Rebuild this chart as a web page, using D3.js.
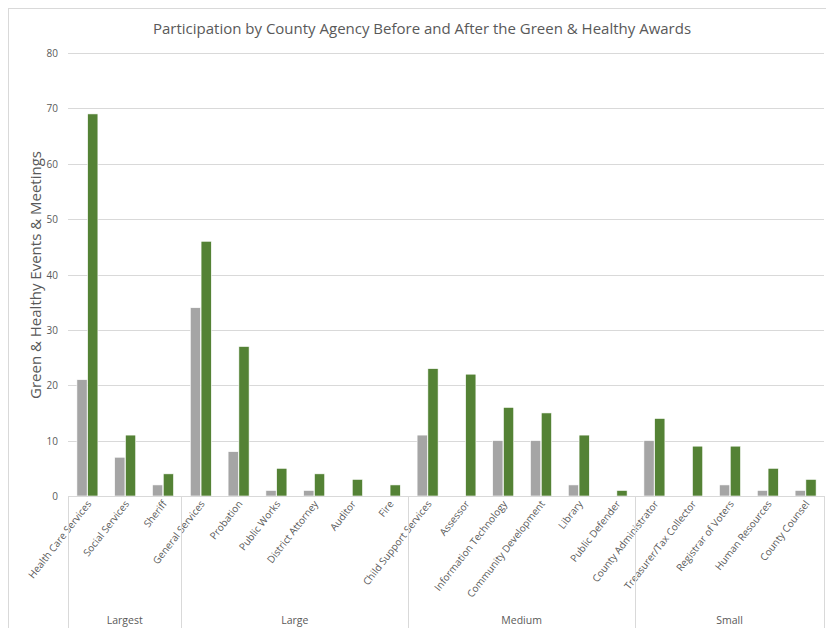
<!DOCTYPE html>
<html>
<head>
<meta charset="utf-8">
<script src="https://cdn.jsdelivr.net/npm/d3@7"></script>
<style>
  body { margin: 0; background: #fff; }
  text { font-family: "Open Sans", sans-serif; fill: #595959; }
</style>
</head>
<body>
<svg id="chart" width="826" height="628"></svg>
<script>
const agencies = ["Health Care Services", "Social Services", "Sheriff", "General Services", "Probation",
  "Public Works", "District Attorney", "Auditor", "Fire", "Child Support Services", "Assessor",
  "Information Technology", "Community Development", "Library", "Public Defender",
  "County Administrator", "Treasurer/Tax Collector", "Registrar of Voters", "Human Resources", "County Counsel"];
const before = [21, 7, 2, 34, 8, 1, 1, 0, 0, 11, 0, 10, 10, 2, 0, 10, 0, 2, 1, 1];
const after = [69, 11, 4, 46, 27, 5, 4, 3, 2, 23, 22, 16, 15, 11, 1, 14, 9, 9, 5, 3];
const groups = ["Largest", "Large", "Medium", "Small"];
const groupSizes = [3, 6, 6, 5];
const yTicks = [0, 10, 20, 30, 40, 50, 60, 70, 80];

const svg = d3.select('#chart');

// outer chart border
svg.append('rect')
  .attr('x', 8.5).attr('y', 8.5)
  .attr('width', 830).attr('height', 640)
  .attr('fill', 'none').attr('stroke', '#d9d9d9');

const plotLeft = 68, plotRight = 824, plotTop = 53, plotBottom = 496;

const x0 = d3.scaleBand().domain(agencies).range([plotLeft, plotRight]);
const bw = x0.bandwidth();
const x1 = d3.scaleBand().domain(['before', 'after']).range([bw / 2 - 10, bw / 2 + 11]).paddingInner(0.05);
const y = d3.scaleLinear().domain([0, 80]).range([plotBottom, plotTop]);

// gridlines
svg.append('g')
  .selectAll('line')
  .data(yTicks.slice(1)).enter().append('line')
  .attr('x1', plotLeft).attr('x2', plotRight)
  .attr('y1', d => Math.round(y(d)) + 0.5).attr('y2', d => Math.round(y(d)) + 0.5)
  .attr('stroke', '#d9d9d9');

// y tick labels
svg.append('g')
  .selectAll('text')
  .data(yTicks).enter().append('text')
  .attr('x', 58).attr('y', d => y(d))
  .attr('text-anchor', 'end')
  .attr('dominant-baseline', 'central')
  .attr('font-size', '10px')
  .text(d => d);

// bars
const series = [
  {key: 'before', values: before, color: '#a5a5a5'},
  {key: 'after', values: after, color: '#548235'}
];
series.forEach(s => {
  svg.append('g')
    .selectAll('rect')
    .data(agencies).enter().append('rect')
    .attr('x', d => x0(d) + x1(s.key))
    .attr('width', x1.bandwidth())
    .attr('y', (d, i) => y(s.values[i]))
    .attr('height', (d, i) => plotBottom - y(s.values[i]))
    .attr('fill', s.color)
    .attr('stroke', '#ffffff')
    .attr('stroke-width', 0.6);
});

// x axis line
svg.append('line')
  .attr('x1', plotLeft).attr('x2', plotRight)
  .attr('y1', plotBottom + 0.5).attr('y2', plotBottom + 0.5)
  .attr('stroke', '#d9d9d9');

// category labels
svg.append('g')
  .selectAll('text')
  .data(agencies).enter().append('text')
  .attr('transform', d => `translate(${x0(d) + bw / 2 + 5}, 504) rotate(-52)`)
  .attr('text-anchor', 'end')
  .attr('font-size', '10px')
  .text(d => d);

// group dividers and labels
let start = 0;
const bounds = [0];
groupSizes.forEach(n => { start += n; bounds.push(start); });
const edge = i => i < agencies.length ? x0(agencies[i]) : plotRight;

svg.append('g')
  .selectAll('line')
  .data(bounds).enter().append('line')
  .attr('x1', i => Math.round(edge(i)) + 0.5)
  .attr('x2', i => Math.round(edge(i)) + 0.5)
  .attr('y1', plotBottom).attr('y2', 628)
  .attr('stroke', '#d9d9d9');

svg.append('g')
  .selectAll('text')
  .data(groups).enter().append('text')
  .attr('x', (d, i) => (edge(bounds[i]) + edge(bounds[i + 1])) / 2)
  .attr('y', 620)
  .attr('dominant-baseline', 'central')
  .attr('text-anchor', 'middle')
  .attr('font-size', '10.5px')
  .text(d => d);

// title
svg.append('text')
  .attr('x', 422).attr('y', 28)
  .attr('text-anchor', 'middle')
  .attr('dominant-baseline', 'central')
  .attr('font-size', '15px')
  .text('Participation by County Agency Before and After the Green & Healthy Awards');

// y axis title
svg.append('text')
  .attr('transform', `translate(35, 275) rotate(-90)`)
  .attr('text-anchor', 'middle')
  .attr('dominant-baseline', 'central')
  .attr('font-size', '15px')
  .text('Green & Healthy Events & Meetings');
</script>
</body>
</html>
